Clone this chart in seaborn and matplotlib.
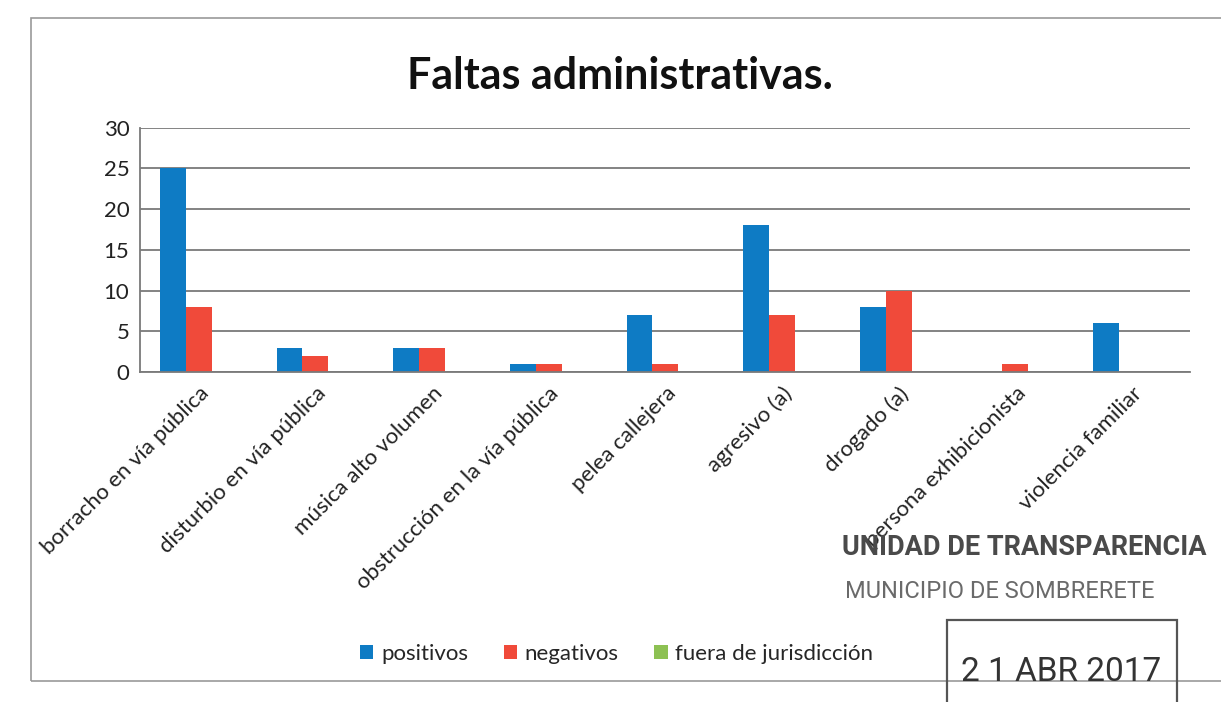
import matplotlib
matplotlib.use('Agg')
import matplotlib.pyplot as plt
import pandas as pd
import seaborn as sns
from matplotlib.patches import Rectangle

# Data
faltas = ['borracho en vía pública', 'disturbio en vía pública', 'música alto volumen',
          'obstrucción en la vía pública', 'pelea callejera', 'agresivo (a)',
          'drogado (a)', 'persona exhibicionista', 'violencia familiar']
positivos = [25, 3, 3, 1, 7, 18, 8, 0, 6]
negativos = [8, 2, 3, 1, 1, 7, 10, 1, 0]
fuera = [0, 0, 0, 0, 0, 0, 0, 0, 0]
series = ['positivos', 'negativos', 'fuera de jurisdicción']
colores = ['#0E7BC4', '#F04A3A', '#8DC153']
y_ticks = [0, 5, 10, 15, 20, 25, 30]

df = pd.DataFrame({'falta': faltas, series[0]: positivos,
                   series[1]: negativos, series[2]: fuera})
df_long = df.melt(id_vars='falta', var_name='serie', value_name='valor')

sns.set_style('white')
plt.rcParams['font.family'] = ['Lato', 'DejaVu Sans']
stamp_font = ['Roboto', 'DejaVu Sans']

fig = plt.figure(figsize=(12.21, 7.02), dpi=100)
ax = fig.add_axes([0.115, 0.47, 0.86, 0.348])

sns.barplot(data=df_long, x='falta', y='valor', hue='serie', hue_order=series,
            palette=colores, saturation=1, width=0.667, gap=0, linewidth=0, ax=ax)

ax.set_ylim(0, 30)
ax.set_yticks(y_ticks)
ax.set_yticklabels([str(t) for t in y_ticks], fontsize=16, color='#222222')
ax.yaxis.grid(True, color='#7a7a7a', linewidth=1.3)
ax.set_axisbelow(True)
ax.set_xlabel('')
ax.set_ylabel('')
ax.set_xlim(-0.5, len(faltas) - 0.5)
ax.tick_params(axis='both', length=0, pad=8)
ax.set_xticks(range(len(faltas)))
ax.set_xticklabels(faltas, rotation=45, ha='right', rotation_mode='anchor',
                   fontsize=16, color='#222222')
for side in ['top', 'right']:
    ax.spines[side].set_visible(False)
for side in ['left', 'bottom']:
    ax.spines[side].set_color('#7a7a7a')
    ax.spines[side].set_linewidth(1.3)

# Legend at the bottom
handles, labels = ax.get_legend_handles_labels()
ax.get_legend().remove()
fig.legend(handles, labels, loc='center', bbox_to_anchor=(0.505, 0.068), ncol=3,
           frameon=False, fontsize=16, handlelength=0.6, handleheight=0.6,
           handletextpad=0.35, columnspacing=1.6)

fig.suptitle('Faltas administrativas.', x=0.508, y=0.92, fontsize=31,
             fontweight='bold', color='#111111')

# Chart border
fig.add_artist(Rectangle((0.025, 0.03), 0.99, 0.945, transform=fig.transFigure,
                         fill=False, edgecolor='#9a9a9a', linewidth=1.2))

# Stamp
fig.text(0.69, 0.22, 'UNIDAD DE TRANSPARENCIA', fontsize=19.5, fontweight='bold',
         color='#4a4a4a', ha='left', va='center', family=stamp_font)
fig.text(0.692, 0.157, 'MUNICIPIO DE SOMBRERETE', fontsize=17,
         color='#6a6a6a', ha='left', va='center', family=stamp_font)
fig.add_artist(Rectangle((0.776, -0.02), 0.188, 0.137, transform=fig.transFigure,
                         fill=False, edgecolor='#555555', linewidth=1.6))
fig.text(0.869, 0.043, '2 1 ABR 2017', fontsize=24, color='#333333',
         ha='center', va='center', family=stamp_font)

fig.savefig('out.png', dpi=100)
